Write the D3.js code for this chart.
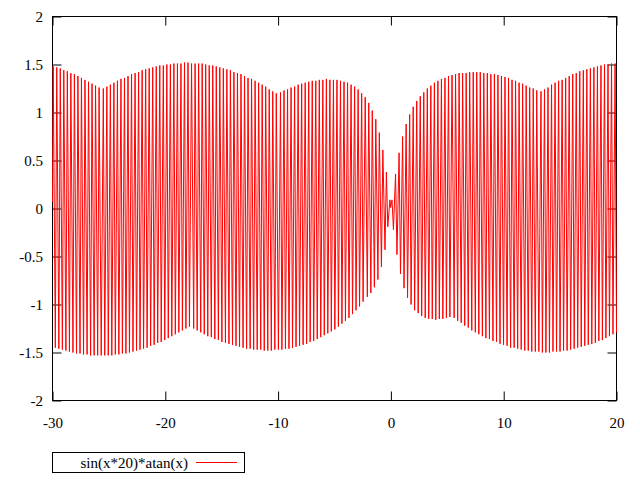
<!DOCTYPE html>
<html><head><meta charset="utf-8">
<script src="https://cdn.jsdelivr.net/npm/d3@7"></script>
<style>body{margin:0;background:#fff}</style>
</head><body>
<script>
// ---- data ----
const seriesName = "sin(x*20)*atan(x)";
const xTicks = [-30, -20, -10, 0, 10, 20];
const xTickLabels = ["-30", "-20", "-10", "0", "10", "20"];
const yTicks = [-2, -1.5, -1, -0.5, 0, 0.5, 1, 1.5, 2];
const yTickLabels = ["-2", "-1.5", "-1", "-0.5", "0", "0.5", "1", "1.5", "2"];
const xDomain = [-30, 20];
const yDomain = [-2, 2];
const sampleCount = 800;            // samples taken over the x range
// sample number of each turning point of the plotted curve
const sampleNo = [
0,1,4,6,9,11,14,16,19,21,24,26,29,31,34,36,
39,41,44,46,49,51,54,56,59,61,64,66,69,72,74,77,
79,82,84,87,89,92,94,97,99,102,104,107,109,112,114,117,
119,122,124,127,129,132,134,137,139,142,144,147,149,152,154,157,
159,162,164,167,169,172,174,177,179,182,184,187,189,192,194,197,
200,202,205,207,210,212,215,217,220,222,225,227,230,232,235,237,
240,242,245,247,250,252,255,257,260,262,265,267,270,272,275,277,
280,282,285,287,290,292,295,297,300,302,305,307,310,312,315,317,
320,323,325,328,330,333,335,338,340,343,345,348,350,353,355,358,
360,363,365,368,370,373,375,378,380,383,385,388,390,393,395,398,
400,403,405,408,410,413,415,418,420,423,425,428,430,433,435,438,
440,443,446,448,451,453,456,458,461,463,466,468,471,473,475,478,
479,481,483,486,488,491,493,496,498,501,503,506,508,511,513,516,
518,521,523,526,528,531,533,536,538,541,543,546,548,551,553,556,
558,561,563,566,569,571,574,576,579,581,584,586,589,591,594,596,
599,601,604,606,609,611,614,616,619,621,624,626,629,631,634,636,
639,641,644,646,649,651,654,656,659,661,664,666,669,671,674,676,
679,681,684,686,689,692,694,697,699,702,704,707,709,712,714,717,
719,722,724,727,729,732,734,737,739,742,744,747,749,752,754,757,
759,762,764,767,769,772,774,777,779,782,784,787,789,792,794,797,
799];
// y value of the curve at each of those turning points
const yValues = [
0.07,1.48,-1.45,1.47,-1.46,1.46,-1.47,1.44,-1.48,1.43,-1.49,1.41,-1.50,1.40,-1.51,
1.38,-1.51,1.36,-1.52,1.34,-1.52,1.32,-1.53,1.30,-1.53,1.28,-1.53,1.26,-1.53,1.25,
-1.53,1.27,-1.53,1.29,-1.53,1.31,-1.52,1.33,-1.52,1.35,-1.51,1.36,-1.51,1.38,-1.50,
1.40,-1.49,1.41,-1.48,1.42,-1.47,1.44,-1.46,1.45,-1.45,1.46,-1.43,1.47,-1.42,1.48,
-1.40,1.49,-1.39,1.49,-1.37,1.50,-1.35,1.50,-1.33,1.51,-1.31,1.51,-1.29,1.51,-1.27,
1.52,-1.25,1.52,-1.23,1.51,-1.25,1.51,-1.27,1.51,-1.29,1.51,-1.31,1.50,-1.33,1.49,
-1.34,1.49,-1.36,1.48,-1.37,1.47,-1.39,1.46,-1.40,1.45,-1.41,1.44,-1.42,1.42,-1.43,
1.41,-1.44,1.40,-1.45,1.38,-1.46,1.36,-1.46,1.35,-1.47,1.33,-1.47,1.31,-1.47,1.29,
-1.48,1.27,-1.48,1.24,-1.48,1.22,-1.47,1.20,-1.47,1.21,-1.47,1.23,-1.46,1.24,-1.46,
1.26,-1.45,1.27,-1.44,1.29,-1.43,1.30,-1.42,1.31,-1.41,1.32,-1.39,1.33,-1.38,1.33,
-1.36,1.34,-1.34,1.34,-1.32,1.35,-1.30,1.34,-1.28,1.34,-1.26,1.34,-1.23,1.33,-1.20,
1.32,-1.17,1.31,-1.14,1.29,-1.10,1.27,-1.06,1.24,-1.02,1.20,-0.97,1.16,-0.92,1.10,
-0.88,1.02,-0.82,0.93,-0.74,0.79,-0.61,0.61,-0.43,0.38,-0.19,0.09,0.01,0.09,-0.22,
0.36,-0.48,0.58,-0.68,0.75,-0.83,0.88,-0.93,0.98,-1.00,1.06,-1.06,1.12,-1.09,1.17,
-1.12,1.21,-1.14,1.25,-1.15,1.28,-1.15,1.31,-1.16,1.33,-1.15,1.35,-1.15,1.36,-1.14,
1.38,-1.13,1.39,-1.14,1.40,-1.17,1.41,-1.19,1.41,-1.22,1.41,-1.24,1.42,-1.27,1.42,
-1.29,1.42,-1.31,1.42,-1.33,1.41,-1.35,1.41,-1.36,1.40,-1.38,1.40,-1.39,1.39,-1.41,
1.38,-1.42,1.37,-1.43,1.36,-1.45,1.34,-1.45,1.33,-1.46,1.31,-1.47,1.30,-1.48,1.28,
-1.48,1.26,-1.49,1.25,-1.49,1.23,-1.49,1.22,-1.50,1.24,-1.50,1.26,-1.50,1.29,-1.49,
1.31,-1.49,1.33,-1.49,1.34,-1.48,1.36,-1.48,1.38,-1.47,1.40,-1.46,1.41,-1.45,1.43,
-1.44,1.44,-1.43,1.45,-1.42,1.46,-1.41,1.47,-1.40,1.48,-1.38,1.49,-1.37,1.50,-1.35,
1.50,-1.33,1.51,-1.31,1.51,-1.29];

// ---- drawing ----
const W = 640, H = 480;
const L = 52.5, R = 616.5, T = 16.5, B = 400.5;
const FONT = "'Liberation Serif', 'Times New Roman', serif";
const FS = 15;

const svg = d3.select("body").append("svg")
  .attr("width", W).attr("height", H).style("display", "block");
svg.append("rect").attr("width", W).attr("height", H).attr("fill", "#fff");

const x = d3.scaleLinear().domain(xDomain).range([L, R]);
const y = d3.scaleLinear().domain(yDomain).range([B, T]);
const sampleToX = d3.scaleLinear().domain([0, sampleCount - 1]).range(xDomain);

function styleAxis(g) {
  g.select(".domain").remove();
  g.selectAll(".tick line").attr("stroke", "#000").attr("stroke-width", 1);
  g.selectAll(".tick text").attr("fill", "#000")
    .attr("font-family", FONT).attr("font-size", FS);
  g.attr("font-family", FONT).attr("font-size", FS);
}

// left axis (labels) and right mirror
svg.append("g").attr("transform", `translate(${L},0)`)
  .call(d3.axisLeft(y).tickValues(yTicks)
    .tickFormat((d, i) => yTickLabels[i]).tickSize(-9).tickPadding(9.5))
  .call(styleAxis);
svg.append("g").attr("transform", `translate(${R},0)`)
  .call(d3.axisRight(y).tickValues(yTicks).tickFormat("").tickSize(-9))
  .call(styleAxis);
// bottom axis (labels) and top mirror
svg.append("g").attr("transform", `translate(0,${B})`)
  .call(d3.axisBottom(x).tickValues(xTicks)
    .tickFormat((d, i) => xTickLabels[i]).tickSize(-9).tickPadding(17))
  .call(styleAxis);
svg.append("g").attr("transform", `translate(0,${T})`)
  .call(d3.axisTop(x).tickValues(xTicks).tickFormat("").tickSize(-9))
  .call(styleAxis);

// border
svg.append("rect").attr("x", L).attr("y", T)
  .attr("width", R - L).attr("height", B - T)
  .attr("fill", "none").attr("stroke", "#000").attr("stroke-width", 1);

// the curve
const pts = sampleNo.map((n, i) => ({ x: sampleToX(n), y: yValues[i] }));
svg.append("path").datum(pts)
  .attr("fill", "none").attr("stroke", "#ff0000").attr("stroke-width", 1)
  .attr("d", d3.line().x(d => x(d.x)).y(d => y(d.y)));

// legend
const lg = svg.append("g");
lg.append("rect").attr("x", 52.5).attr("y", 452.5).attr("width", 192).attr("height", 20)
  .attr("fill", "none").attr("stroke", "#000").attr("stroke-width", 1);
lg.append("text").attr("x", 188).attr("y", 467.5).attr("text-anchor", "end")
  .attr("font-family", FONT).attr("font-size", FS).attr("fill", "#000")
  .text(seriesName);
lg.append("line").attr("x1", 196).attr("x2", 237).attr("y1", 462.5).attr("y2", 462.5)
  .attr("stroke", "#ff0000").attr("stroke-width", 1);
</script>
</body></html>
